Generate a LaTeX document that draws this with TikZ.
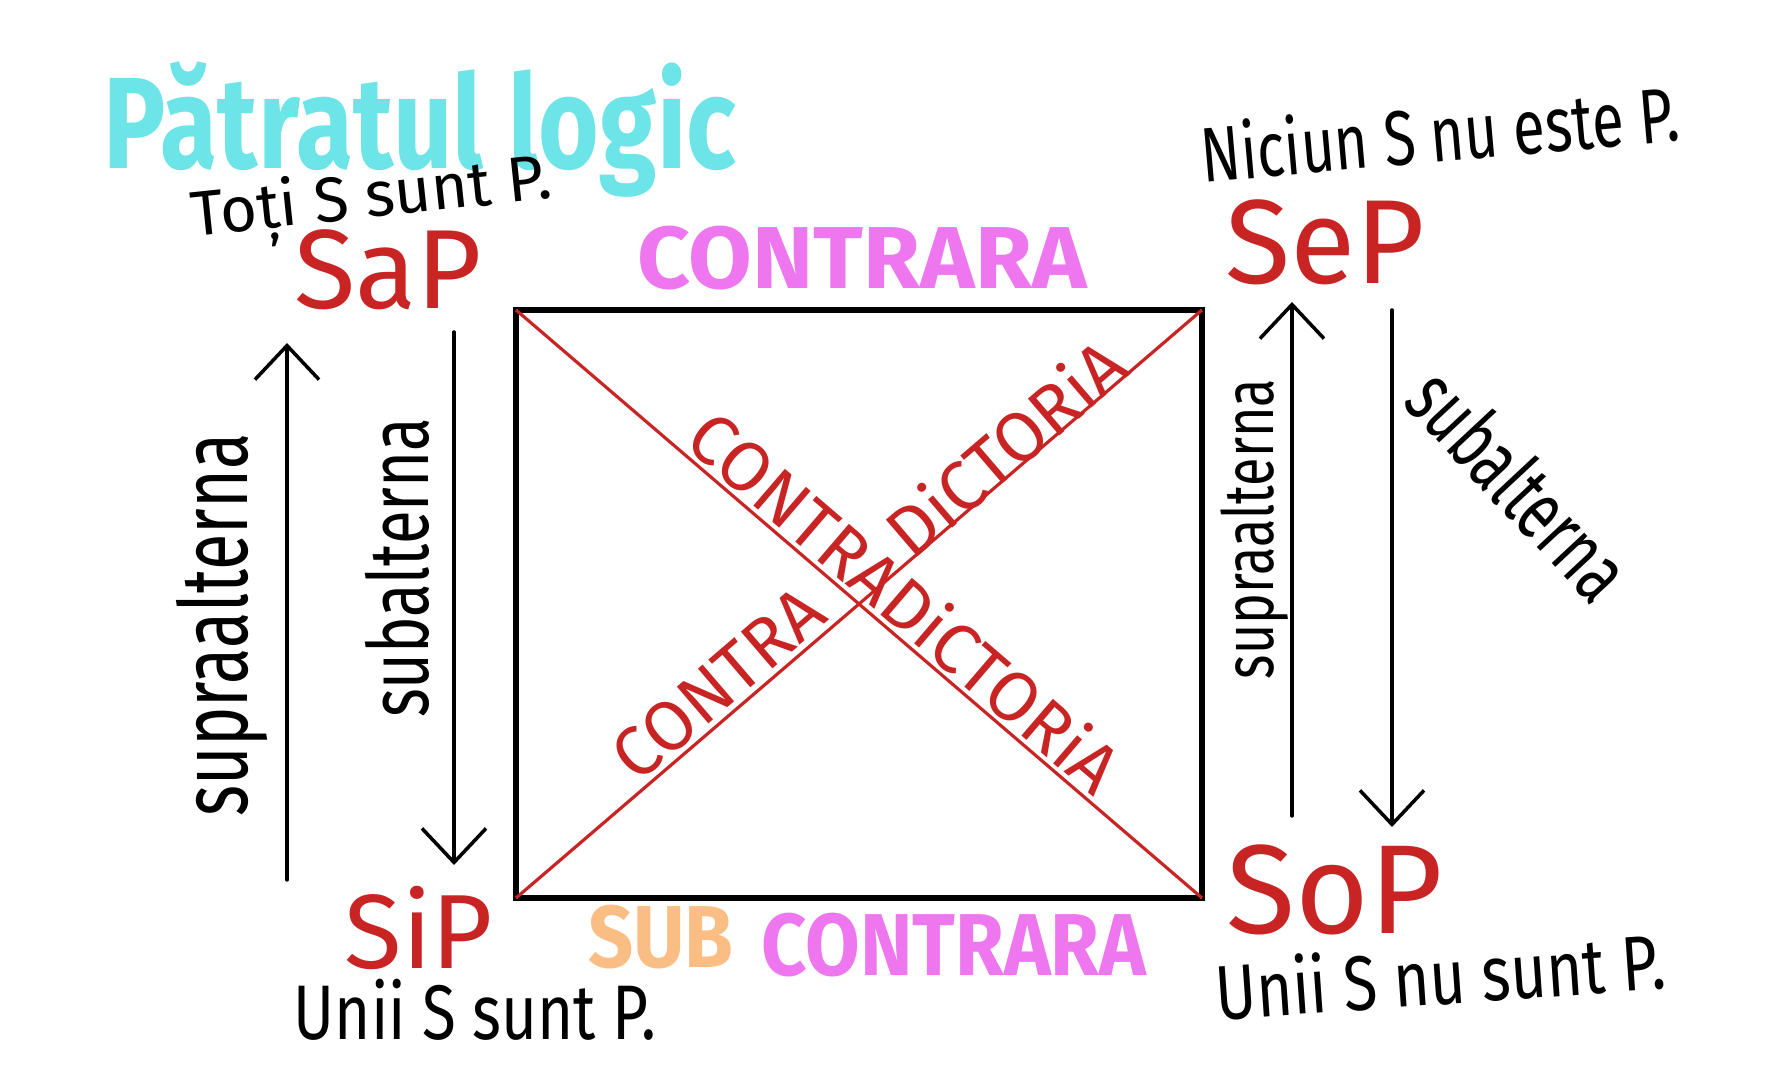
\documentclass[tikz,border=0pt]{standalone}
\usepackage{fontspec}
\setmainfont{Fira Sans}
\usetikzlibrary{arrows.meta}
\definecolor{titlecyan}{RGB}{108,228,232}
\definecolor{penred}{RGB}{200,36,36}
\definecolor{markmag}{RGB}{238,118,238}
\definecolor{markorange}{RGB}{250,190,132}
\begin{document}
\begin{tikzpicture}[x=0.01cm,y=-0.01cm,
  pen/.style={text=black,font=\fontsize{22}{26}\selectfont},
  letters/.style={text=penred,font=\fontsize{32}{36}\selectfont},
  marker/.style={font=\bfseries\fontsize{25}{30}\selectfont},
  side/.style={text=black,font=\fontsize{24}{28}\selectfont},
  diaglabel/.style={text=penred,font=\fontsize{20}{24}\selectfont},
  box/.style={draw,line width=1.6pt},
  diag/.style={draw,penred,line width=0.9pt},
  arr/.style={draw,line width=1pt,line cap=round,-{Straight Barb[length=0.34cm,width=0.64cm,line width=1pt]}}]
\useasboundingbox[fill=white] (0,0) rectangle (1765,1080);

\coordinate (tl) at (516,310);
\coordinate (tr) at (1202,310);
\coordinate (br) at (1202,898);
\coordinate (bl) at (516,898);
\path[box] (tl) -- (tr) -- (br) -- (bl) -- cycle;
\path[diag] (tl) -- (br);
\path[diag] (bl) -- (tr);

\node[text=titlecyan,font=\bfseries\fontsize{37}{42}\selectfont] (title) at (420,130) {\scalebox{0.8}[1]{Pătratul logic}};

\node[letters] (sap) at (388,270) {SaP};
\node[letters,font=\fontsize{34}{38}\selectfont] (sep) at (1325,242) {SeP};
\node[letters,font=\fontsize{30}{34}\selectfont] (sip) at (419,928) {SiP};
\node[letters,font=\fontsize{36}{40}\selectfont] (sop) at (1335,890) {SoP};

\node[pen,font=\fontsize{18}{22}\selectfont,rotate=6] (toti) at (372,202) {Toți S sunt P.};
\node[pen,rotate=5] (niciun) at (1440,132) {\scalebox{0.75}[1]{Niciun S nu este P.}};
\node[pen] (unii) at (475,1010) {\scalebox{0.8}[1]{Unii S sunt P.}};
\node[pen,rotate=4] (uniinu) at (1440,975) {\scalebox{0.8}[1]{Unii S nu sunt P.}};

\node[marker,text=markmag] (contrarasus) at (862,258) {\scalebox{1.05}[1]{CONTRARA}};
\node[marker,text=markorange] (sub) at (661,937) {\scalebox{0.9}[1]{SUB}};
\node[marker,text=markmag] (contrarajos) at (954,945) {\scalebox{0.9}[1]{CONTRARA}};

\node[diaglabel,rotate=-40.6] (contradesc) at (906,601) {CONTRADiCTORiA};
\node[diaglabel,rotate=40.6] (contraasc) at (718,684) {CONTRA};
\node[diaglabel,rotate=40.6] (dictasc) at (1005,447) {DiCTORiA};

\coordinate (lu1) at (287,880);
\coordinate (lu2) at (287,343);
\coordinate (ld1) at (454,332);
\coordinate (ld2) at (454,865);
\coordinate (ru1) at (1292,816);
\coordinate (ru2) at (1292,302);
\coordinate (rd1) at (1392,310);
\coordinate (rd2) at (1392,827);
\path[arr] (lu1) -- (lu2);
\path[arr] (ld1) -- (ld2);
\path[arr] (ru1) -- (ru2);
\path[arr] (rd1) -- (rd2);

\node[side,rotate=90,font=\fontsize{27}{30}\selectfont] (supast) at (222,625) {\scalebox{0.7}[1]{supraalterna}};
\node[side,rotate=90] (subst) at (397,568) {\scalebox{0.73}[1]{subalterna}};
\node[side,rotate=90,font=\fontsize{20}{24}\selectfont] (supadr) at (1255,529) {\scalebox{0.74}[1]{supraalterna}};
\node[side,rotate=-47] (subdr) at (1520,484) {\scalebox{0.68}[1]{subalterna}};
\end{tikzpicture}
\end{document}
